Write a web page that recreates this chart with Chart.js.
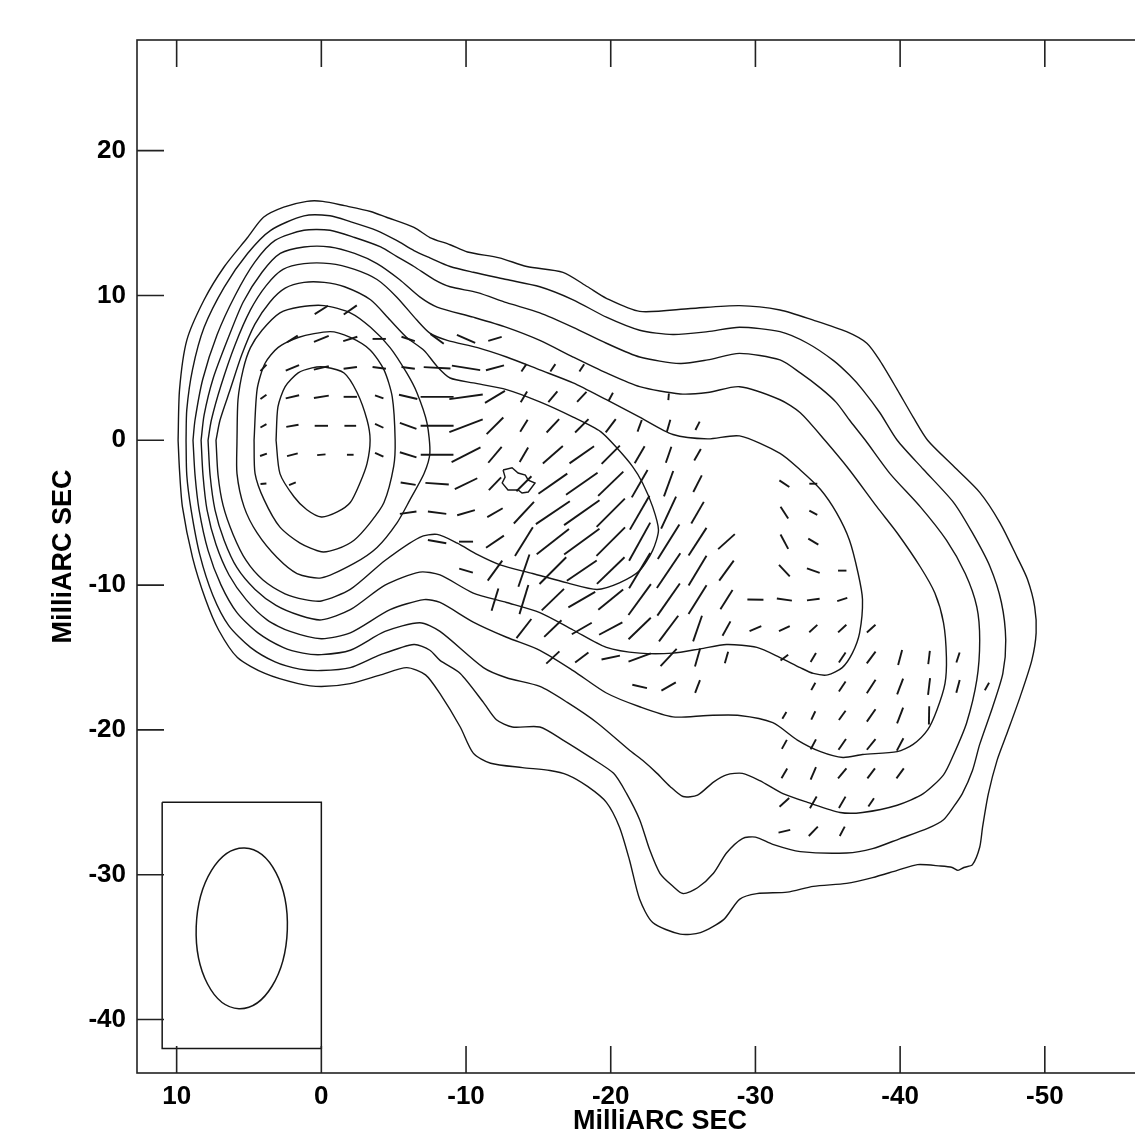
<!DOCTYPE html>
<html lang="en">
<head>
<meta charset="UTF-8">
<title>Polarization map</title>
<script src="https://cdn.jsdelivr.net/npm/chart.js"></script>
<style>
  html, body { margin: 0; padding: 0; background: #fff; overflow: hidden; }
  #wrap { position: absolute; left: 0; top: 0; }
</style>
</head>
<body>
<div id="wrap"><canvas id="map" width="1183" height="1135"></canvas></div>
<script>
// axis ranges in milliarcsec (x runs east -> west, so it is reversed)
const xRange = [-59.55, 12.74];
const yRange = [-43.69, 27.64];
const tickStep = 10;

// total intensity contours, outermost first, [x, y] in mas
const lev1 = [[9.9,0.0],[9.8,-2.1],[9.6,-4.6],[8.9,-8.1],[8.0,-11.0],[7.1,-13.1],[5.8,-15.0],[3.9,-16.1],[1.6,-16.8],[0.0,-17.0],[-2.0,-16.8],[-4.1,-16.2],[-5.9,-15.7],[-7.2,-16.2],[-8.2,-17.5],[-9.6,-19.8],[-10.5,-21.6],[-11.7,-22.3],[-13.9,-22.6],[-15.8,-22.8],[-17.0,-23.1],[-18.4,-23.9],[-19.7,-25.0],[-20.6,-26.7],[-21.3,-29.0],[-22.0,-31.7],[-22.9,-33.3],[-24.8,-34.1],[-26.2,-34.0],[-27.8,-33.1],[-28.9,-31.7],[-30.1,-31.3],[-32.2,-31.2],[-34.0,-30.8],[-36.3,-30.6],[-38.1,-30.2],[-39.8,-29.7],[-41.2,-29.3],[-42.8,-29.4],[-43.6,-29.5],[-44.0,-29.7],[-44.4,-29.5],[-45.0,-29.3],[-45.5,-28.1],[-45.7,-26.7],[-46.1,-24.4],[-46.7,-22.1],[-47.4,-20.2],[-48.3,-17.7],[-49.1,-15.2],[-49.4,-13.3],[-49.3,-11.5],[-48.8,-9.6],[-48.1,-8.1],[-46.9,-5.7],[-45.5,-3.6],[-43.7,-1.8],[-41.9,0.0],[-40.9,1.6],[-39.8,3.5],[-38.6,5.5],[-37.7,6.7],[-36.3,7.5],[-34.0,8.3],[-31.7,9.0],[-28.9,9.3],[-25.5,9.1],[-22.0,8.9],[-19.7,9.8],[-18.4,10.6],[-16.7,11.6],[-14.2,12.0],[-12.3,12.6],[-10.1,13.0],[-8.9,13.5],[-7.5,14.0],[-6.4,14.7],[-4.5,15.4],[-3.4,15.8],[-1.6,16.2],[-0.1,16.5],[1.0,16.5],[2.6,16.1],[4.0,15.4],[5.1,14.0],[6.7,12.0],[8.1,9.7],[9.3,6.9],[9.8,3.5],[9.9,0.0]];
const lev2 = [[9.35,0.0],[9.3,-2.4],[9.0,-4.8],[8.4,-7.9],[7.5,-10.7],[6.4,-12.8],[4.9,-14.3],[3.2,-15.3],[1.5,-15.8],[0.0,-15.9],[-2.0,-15.7],[-4.1,-14.8],[-6.4,-14.1],[-7.5,-14.5],[-8.2,-15.2],[-9.6,-16.1],[-11.2,-18.1],[-12.1,-19.3],[-13.2,-19.8],[-15.1,-19.8],[-16.7,-20.7],[-18.6,-21.9],[-20.2,-23.0],[-21.1,-24.4],[-22.0,-26.2],[-22.7,-28.3],[-23.4,-29.9],[-24.3,-30.8],[-25.0,-31.3],[-26.0,-30.9],[-27.1,-29.9],[-28.0,-28.5],[-29.1,-27.5],[-30.0,-27.4],[-31.2,-27.9],[-33.1,-28.4],[-36.3,-28.5],[-38.1,-28.2],[-40.0,-27.5],[-41.9,-26.8],[-43.0,-26.2],[-43.7,-25.3],[-44.3,-24.4],[-45.0,-22.8],[-45.5,-21.0],[-46.4,-18.4],[-47.1,-16.1],[-47.3,-13.8],[-47.0,-11.2],[-46.2,-8.7],[-45.0,-6.4],[-43.7,-4.3],[-41.6,-2.0],[-39.8,0.0],[-38.6,1.9],[-37.4,3.5],[-36.5,4.5],[-35.4,5.5],[-33.6,6.7],[-31.7,7.5],[-28.9,7.8],[-26.7,7.5],[-24.3,7.3],[-22.0,7.6],[-19.7,8.5],[-17.4,9.7],[-15.1,10.6],[-12.8,11.1],[-10.5,11.6],[-8.9,12.0],[-7.5,12.6],[-6.4,13.1],[-5.2,13.8],[-3.8,14.5],[-2.0,15.1],[-0.6,15.5],[1.2,15.5],[3.5,14.5],[5.1,12.9],[6.7,10.6],[8.1,7.8],[8.9,4.9],[9.3,2.1],[9.35,0.0]];
const lev3 = [[8.87,0.0],[8.73,-2.4],[8.45,-4.8],[7.83,-7.6],[6.93,-10.0],[5.83,-11.9],[4.38,-13.3],[2.65,-14.3],[1.27,-14.7],[0.0,-14.8],[-2.0,-14.5],[-4.4,-13.2],[-6.8,-12.6],[-8.2,-13.2],[-11.2,-15.7],[-12.8,-16.4],[-15.1,-17.0],[-17.0,-18.1],[-19.05,-19.5],[-21.3,-21.4],[-22.2,-22.1],[-23.2,-23.0],[-24.1,-23.9],[-25.0,-24.6],[-26.0,-24.5],[-27.1,-23.6],[-28.0,-23.1],[-29.1,-23.0],[-30.3,-23.5],[-31.9,-24.4],[-33.6,-25.0],[-35.85,-25.7],[-37.4,-25.7],[-39.8,-25.2],[-41.6,-24.4],[-43.0,-23.1],[-43.7,-21.7],[-44.6,-19.5],[-45.3,-16.55],[-45.5,-13.8],[-45.3,-11.5],[-44.5,-9.2],[-43.2,-6.9],[-41.4,-4.6],[-39.3,-2.3],[-37.6,0.0],[-36.5,1.4],[-35.6,2.6],[-34.5,3.6],[-33.1,4.65],[-31.7,5.55],[-28.9,6.0],[-26.7,5.55],[-24.8,5.3],[-22.0,5.75],[-19.7,6.7],[-17.4,7.8],[-15.1,8.8],[-12.8,9.5],[-10.8,10.2],[-8.9,10.6],[-7.8,11.1],[-6.4,12.0],[-5.2,12.7],[-4.1,13.35],[-2.3,14.0],[-0.6,14.5],[1.2,14.5],[3.2,13.8],[4.6,12.3],[5.96,10.0],[7.2,7.3],[8.2,4.2],[8.73,1.4],[8.87,0.0]];
const lev4 = [[8.31,0.0],[8.18,-2.4],[7.9,-4.8],[7.28,-7.2],[6.38,-9.3],[5.2,-11.0],[3.75,-12.4],[2.16,-13.2],[0.0,-13.7],[-2.0,-13.3],[-4.75,-11.7],[-7.1,-11.0],[-8.2,-11.2],[-10.5,-12.55],[-12.8,-13.6],[-15.1,-14.5],[-17.4,-15.9],[-19.7,-17.45],[-22.0,-18.4],[-24.3,-19.1],[-26.7,-19.0],[-28.9,-19.0],[-31.2,-19.5],[-32.9,-20.7],[-34.5,-21.5],[-36.05,-21.9],[-37.4,-21.7],[-39.8,-21.5],[-40.9,-21.0],[-41.9,-20.0],[-42.55,-18.6],[-43.1,-16.8],[-43.2,-15.0],[-43.0,-12.6],[-42.4,-10.55],[-41.4,-8.75],[-39.8,-6.4],[-38.4,-4.6],[-36.5,-2.05],[-34.8,0.0],[-33.1,1.9],[-31.7,2.8],[-28.9,3.7],[-26.7,3.3],[-24.8,3.2],[-22.0,3.7],[-19.7,4.65],[-17.4,5.75],[-15.1,6.9],[-12.8,7.8],[-10.5,8.5],[-8.0,9.2],[-6.8,9.9],[-5.4,11.1],[-3.85,12.2],[-2.3,12.9],[-0.6,13.35],[1.2,13.35],[2.84,12.9],[4.1,11.6],[5.4,9.55],[6.5,6.9],[7.5,4.2],[8.1,1.75],[8.31,0.0]];
const lev5 = [[7.83,0.0],[7.69,-2.4],[7.35,-4.8],[6.72,-6.9],[5.83,-8.8],[4.58,-10.3],[3.13,-11.4],[1.47,-12.1],[0.0,-12.4],[-2.0,-11.7],[-4.4,-10.0],[-6.8,-9.1],[-8.2,-9.3],[-10.5,-10.55],[-12.8,-11.2],[-15.1,-11.9],[-17.4,-13.1],[-19.7,-14.3],[-22.0,-14.7],[-24.3,-14.7],[-26.2,-14.4],[-28.0,-14.1],[-30.1,-14.3],[-31.7,-15.0],[-33.1,-15.7],[-34.0,-16.1],[-35.0,-16.2],[-36.0,-15.7],[-36.7,-14.7],[-37.2,-13.3],[-37.4,-11.0],[-37.1,-9.2],[-36.5,-6.9],[-35.6,-5.0],[-34.5,-3.4],[-33.1,-2.05],[-31.7,-0.9],[-28.9,0.3],[-26.7,0.1],[-24.3,0.4],[-22.0,1.6],[-19.7,2.8],[-17.4,3.96],[-15.1,4.86],[-12.8,5.75],[-10.8,6.4],[-8.7,6.9],[-7.5,7.4],[-6.6,8.3],[-5.2,9.9],[-3.85,11.1],[-2.3,11.8],[-0.6,12.2],[1.2,12.2],[2.65,11.8],[3.8,10.7],[4.9,9.0],[5.96,6.6],[6.93,3.8],[7.6,1.4],[7.83,0.0]];
const lev6 = [[7.28,0.0],[7.14,-2.4],[6.79,-4.5],[6.1,-6.5],[5.2,-8.3],[4.03,-9.65],[2.51,-10.6],[1.13,-11.0],[0.0,-11.1],[-2.0,-10.3],[-4.4,-8.3],[-6.8,-6.7],[-8.0,-6.5],[-9.4,-7.1],[-10.8,-7.9],[-12.35,-8.6],[-14.6,-9.2],[-17.0,-9.85],[-19.05,-10.3],[-20.6,-9.85],[-22.0,-9.0],[-22.9,-7.6],[-23.3,-6.2],[-22.9,-4.6],[-22.2,-2.95],[-21.5,-1.8],[-20.4,-0.5],[-19.3,0.6],[-17.4,1.6],[-15.1,2.65],[-12.8,3.5],[-10.5,3.96],[-8.9,4.3],[-8.0,5.1],[-7.1,6.2],[-5.9,7.1],[-4.75,8.3],[-3.4,9.7],[-1.6,10.6],[-0.2,10.9],[1.2,10.9],[2.5,10.5],[3.55,9.55],[4.6,8.0],[5.5,5.9],[6.3,3.5],[7.0,1.4],[7.28,0.0]];
const lev7 = [[5.83,0.0],[5.83,-2.3],[5.34,-4.6],[4.44,-6.4],[3.06,-8.1],[1.68,-9.2],[0.0,-9.5],[-2.26,-8.5],[-3.85,-7.4],[-5.23,-5.7],[-6.13,-4.1],[-7.1,-2.3],[-7.5,-0.9],[-7.3,1.2],[-6.6,3.3],[-5.9,4.65],[-4.75,6.4],[-3.4,7.8],[-2.0,8.8],[-0.2,9.3],[1.5,9.2],[2.86,8.8],[4.1,7.6],[4.9,6.4],[5.4,4.9],[5.76,2.8],[5.83,0.0]];
const lev8 = [[4.65,0.0],[4.58,-2.3],[3.96,-4.1],[2.86,-6.0],[1.47,-7.1],[0.0,-7.7],[-1.1,-7.5],[-2.26,-6.9],[-3.37,-5.7],[-4.33,-4.3],[-5.0,-1.8],[-5.1,0.0],[-4.9,3.0],[-4.33,4.86],[-3.37,6.24],[-2.0,7.1],[-0.6,7.5],[1.6,7.1],[3.0,6.4],[3.9,5.3],[4.44,3.5],[4.65,0.0]];
const lev9 = [[3.13,0.0],[2.86,-2.3],[1.89,-3.9],[1.0,-4.8],[0.0,-5.3],[-1.1,-4.95],[-2.0,-4.3],[-2.67,-2.95],[-3.16,-1.6],[-3.37,0.0],[-3.16,1.4],[-2.47,3.3],[-1.57,4.65],[-0.2,5.06],[0.64,5.0],[1.6,4.65],[2.5,3.7],[3.0,2.3],[3.13,0.0]];
const knot = [[-12.56,-2.05],[-13.18,-1.9],[-13.6,-2.26],[-14.1,-2.4],[-14.3,-2.75],[-14.77,-2.95],[-14.3,-3.57],[-13.87,-3.64],[-13.6,-3.43],[-12.9,-3.43],[-12.5,-2.95],[-12.7,-2.54],[-12.56,-2.05]];

// polarization vectors on a 2 mas grid: one entry per row
const vecRowY = [9, 7, 5, 3, 1, -1, -3, -5, -7, -9, -11, -13, -15, -17, -19, -21, -23, -25, -27];
const vecRowX = [
  [0, -2],
  [2, 0, -2, -4, -6, -8, -10, -12],
  [4, 2, 0, -2, -4, -6, -8, -10, -12, -14, -16, -18],
  [4, 2, 0, -2, -4, -6, -8, -10, -12, -14, -16, -18, -20, -24],
  [4, 2, 0, -2, -4, -6, -8, -10, -12, -14, -16, -18, -20, -22, -24, -26],
  [4, 2, 0, -2, -4, -6, -8, -10, -12, -14, -16, -18, -20, -22, -24, -26],
  [4, 2, -6, -8, -10, -12, -14, -16, -18, -20, -22, -24, -26, -32, -34],
  [-6, -8, -10, -12, -14, -16, -18, -20, -22, -24, -26, -32, -34],
  [-8, -10, -12, -14, -16, -18, -20, -22, -24, -26, -28, -32, -34],
  [-10, -12, -14, -16, -18, -20, -22, -24, -26, -28, -32, -34, -36],
  [-12, -14, -16, -18, -20, -22, -24, -26, -28, -30, -32, -34, -36],
  [-14, -16, -18, -20, -22, -24, -26, -28, -30, -32, -34, -36, -38],
  [-16, -18, -20, -22, -24, -26, -28, -32, -34, -36, -38, -40, -42, -44],
  [-22, -24, -26, -34, -36, -38, -40, -42, -44, -46],
  [-32, -34, -36, -38, -40, -42],
  [-32, -34, -36, -38, -40],
  [-32, -34, -36, -38, -40],
  [-32, -34, -36, -38],
  [-32, -34, -36]
];
// electric vector position angle, degrees (N through E)
const vecRowPA = [
  [-58, -55],
  [-58, -68, -73, 90, 72, 54, 66, -73],
  [-42, -67, -77, -82, 83, 82, 87, 81, -75, -34, -34, -33],
  [-55, -77, -81, 90, 70, 77, 90, -82, -59, -31, -40, -43, -28, -5],
  [-60, -80, 90, 90, 65, 70, 90, -69, -45, -32, -43, -45, -37, -20, -16, -27],
  [-70, -76, -85, 90, 65, 73, 90, -63, -40, -30, -49, -55, -45, -30, -19, -30],
  [-85, -68, 81, 86, -64, -44, -45, -55, -55, -46, -30, -20, -27, 56, 90],
  [-82, 83, -74, -60, -43, -56, -55, -45, -30, -25, -30, 33, 62],
  [80, 90, -56, -32, -52, -54, -45, -29, -32, -33, -48, 28, 59],
  [74, -36, -19, -45, -56, -46, -31, -34, -31, -36, 43, 71, 90],
  [-17, -17, -46, -60, -51, -36, -35, -32, -32, 89, 82, -83, -72],
  [-38, -46, -60, -62, -46, -37, -19, -29, -67, -65, -48, -47, -48],
  [-47, -53, -78, -70, -43, -16, -16, -53, -31, -34, -37, -15, -7, -18],
  [77, -60, -21, -29, -34, -33, -21, -7, -15, -30],
  [-31, -26, -36, -35, -21, -1],
  [-29, -28, -35, -39, -28],
  [-30, -23, -40, -37, -36],
  [-48, -30, -30, -34],
  [-77, -44, -28]
];
// vector length (polarized flux), drawn in mas
const vecRowLen = [
  [1.08, 1.1],
  [0.87, 1.1, 1.02, 0.92, 0.97, 1.14, 1.38, 0.97],
  [0.62, 1.0, 1.06, 0.93, 0.93, 0.93, 1.85, 1.98, 1.29, 0.62, 0.62, 0.6],
  [0.51, 0.95, 1.04, 0.92, 0.62, 1.3, 2.28, 2.33, 1.61, 0.86, 0.97, 0.95, 0.65, 0.46],
  [0.48, 0.86, 0.92, 0.81, 0.64, 1.22, 2.28, 2.47, 1.63, 0.97, 1.27, 1.31, 1.15, 0.86, 0.86, 0.65],
  [0.5, 0.76, 0.58, 0.46, 0.64, 1.2, 2.26, 2.24, 1.44, 1.17, 1.83, 2.07, 1.78, 1.37, 1.17, 0.91],
  [0.41, 0.5, 1.05, 1.62, 1.73, 1.22, 1.47, 2.43, 2.66, 2.42, 2.18, 1.87, 1.29, 0.83, 0.55],
  [1.16, 1.28, 1.27, 1.23, 2.04, 2.83, 2.99, 2.76, 2.7, 2.44, 1.73, 0.97, 0.62],
  [1.29, 0.97, 1.49, 2.33, 2.83, 3.02, 2.79, 3.01, 2.81, 2.27, 1.55, 1.13, 0.81],
  [0.98, 1.71, 2.35, 2.61, 2.49, 2.65, 2.83, 2.9, 2.4, 1.71, 1.09, 0.93, 0.58],
  [1.61, 2.1, 2.14, 2.14, 2.21, 2.64, 2.71, 2.35, 1.58, 1.11, 1.05, 0.88, 0.73],
  [1.67, 1.66, 1.59, 1.82, 2.14, 2.21, 1.88, 1.13, 0.88, 0.82, 0.75, 0.78, 0.8],
  [1.24, 1.15, 1.3, 1.64, 1.63, 1.29, 0.83, 0.66, 0.72, 0.83, 1.01, 1.07, 0.93, 0.73],
  [1.04, 1.15, 0.94, 0.58, 0.83, 1.11, 1.16, 1.16, 0.91, 0.59],
  [0.54, 0.64, 0.79, 1.04, 1.17, 1.26],
  [0.71, 0.78, 0.9, 0.95, 0.97],
  [0.79, 0.95, 0.9, 0.87, 0.86],
  [0.9, 0.93, 0.91, 0.69],
  [0.83, 0.9, 0.73]
];

// restoring beam (mas, deg) and the box around it
const beamCenter = [5.5, -33.7];
const beamMajor = 11.1;
const beamMinor = 6.3;
const beamPA = -2;
const beamBoxX = [11, 0, 0, 11, 11];
const beamBoxY = [-25, -25, -42, -42, -25];

const ink = '#161616';
Chart.defaults.font.family = "'Liberation Sans', Arial, Helvetica, sans-serif";

const toXY = arr => arr.map(p => ({ x: p[0], y: p[1] }));

const datasets = [];
[lev1, lev2, lev3, lev4, lev5, lev6, lev7, lev8, lev9].forEach(c => {
  datasets.push({
    data: toXY(c), showLine: true, pointRadius: 0, borderColor: ink,
    borderWidth: 1.4, tension: 0.25, fill: false
  });
});
datasets.push({ data: toXY(knot), showLine: true, pointRadius: 0, borderColor: ink, borderWidth: 1.4, tension: 0 });
datasets.push({
  data: beamBoxX.map((x, i) => ({ x: x, y: beamBoxY[i] })),
  showLine: true, pointRadius: 0, borderColor: ink, borderWidth: 1.5, tension: 0
});

// vectors: line-shaped points, rotated by EVPA, sized by length
const vecPoints = [], vecRot = [], vecSize = [];
vecRowY.forEach((yv, i) => {
  vecRowX[i].forEach((xv, j) => {
    vecPoints.push({ x: xv, y: yv });
    vecRot.push(90 - vecRowPA[i][j]);
    vecSize.push(vecRowLen[i][j]);
  });
});
datasets.push({
  data: vecPoints,
  showLine: false,
  pointStyle: 'line',
  pointRotation: vecRot,
  pointRadius: ctx => {
    if (ctx.dataIndex === undefined) return 0;
    const s = ctx.chart.scales.x;
    const k = Math.abs(s.getPixelForValue(1) - s.getPixelForValue(0));
    return vecSize[ctx.dataIndex] * k / 2;
  },
  pointBorderColor: ink,
  pointBackgroundColor: ink,
  pointBorderWidth: 1.9
});

// frame with inward ticks, plus the beam ellipse
const framePlugin = {
  id: 'frame',
  afterDatasetsDraw(chart) {
    const { ctx, chartArea: a, scales: { x, y } } = chart;
    ctx.save();
    ctx.strokeStyle = '#222';
    ctx.lineWidth = 1.6;
    ctx.strokeRect(a.left, a.top, a.right - a.left, a.bottom - a.top);
    ctx.beginPath();
    x.ticks.forEach(t => {
      const px = x.getPixelForValue(t.value);
      ctx.moveTo(px, a.bottom); ctx.lineTo(px, a.bottom - 27);
      ctx.moveTo(px, a.top); ctx.lineTo(px, a.top + 27);
    });
    y.ticks.forEach(t => {
      const py = y.getPixelForValue(t.value);
      ctx.moveTo(a.left, py); ctx.lineTo(a.left + 27, py);
      ctx.moveTo(a.right, py); ctx.lineTo(a.right - 27, py);
    });
    ctx.stroke();

    const cx = x.getPixelForValue(beamCenter[0]);
    const cy = y.getPixelForValue(beamCenter[1]);
    const rx = Math.abs(x.getPixelForValue(beamCenter[0] + beamMinor / 2) - cx);
    const ry = Math.abs(y.getPixelForValue(beamCenter[1] + beamMajor / 2) - cy);
    ctx.strokeStyle = ink;
    ctx.lineWidth = 1.5;
    ctx.beginPath();
    ctx.ellipse(cx, cy, rx, ry, -beamPA * Math.PI / 180, 0, Math.PI * 2);
    ctx.stroke();
    ctx.restore();
  }
};

const tickFont = { size: 26, weight: 'bold' };
const titleFont = { size: 27, weight: 'bold', lineHeight: 1 };

new Chart(document.getElementById('map'), {
  type: 'scatter',
  data: { datasets: datasets },
  options: {
    responsive: false,
    animation: false,
    events: [],
    layout: { padding: { top: 40, left: 0, right: 0, bottom: 0 } },
    plugins: { legend: { display: false }, tooltip: { enabled: false } },
    scales: {
      x: {
        type: 'linear', position: 'bottom', reverse: true,
        min: xRange[0], max: xRange[1],
        afterFit: s => { s.height = 62; },
        grid: { display: false, drawTicks: false },
        border: { display: false },
        ticks: { stepSize: tickStep, includeBounds: false, autoSkip: false, maxRotation: 0, padding: 8, color: '#000', font: tickFont },
        title: { display: true, text: 'MilliARC SEC', color: '#000', font: titleFont, padding: { top: 0, bottom: 0 } }
      },
      y: {
        type: 'linear', position: 'left',
        min: yRange[0], max: yRange[1],
        afterFit: s => { s.width = 137; },
        grid: { display: false, drawTicks: false },
        border: { display: false },
        ticks: { stepSize: tickStep, includeBounds: false, autoSkip: false, padding: 11, color: '#000', font: tickFont },
        title: { display: true, text: 'MilliARC SEC', color: '#000', font: titleFont, padding: { top: 50, bottom: 0 } }
      }
    }
  },
  plugins: [framePlugin]
});
</script>
</body>
</html>
